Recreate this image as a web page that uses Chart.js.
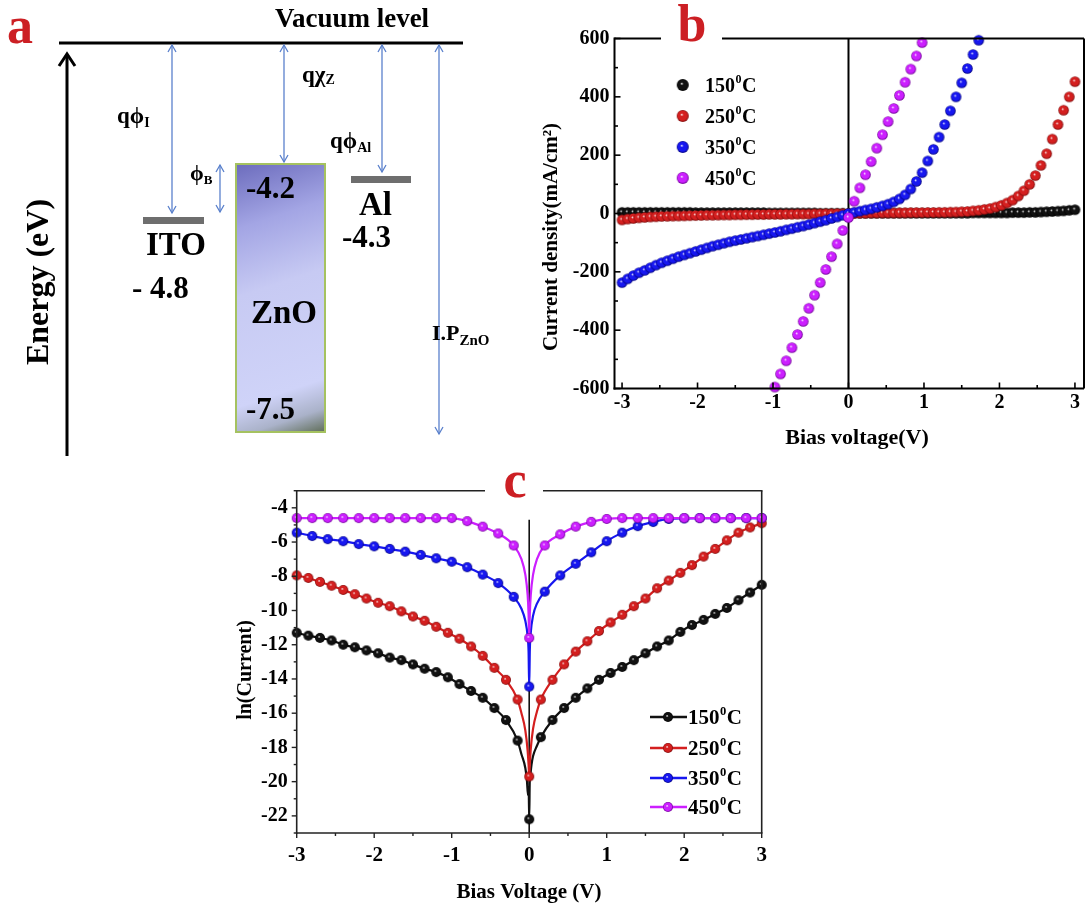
<!DOCTYPE html>
<html><head><meta charset="utf-8">
<script src="https://cdn.jsdelivr.net/npm/chart.js@4.4.1/dist/chart.umd.min.js"></script>
<style>
html,body{margin:0;padding:0;background:#fff;overflow:hidden;width:1085px;height:906px;}
canvas{position:absolute;}
#ca{left:0;top:0;}
#cb{left:530px;top:0;}
#cc{left:220px;top:462px;}
</style></head><body>
<canvas id="ca" width="520" height="460"></canvas>
<canvas id="cb" width="560" height="460"></canvas>
<canvas id="cc" width="560" height="444"></canvas>
<script>
// ---------------- DATA ----------------
const seriesNames = ['150', '250', '350', '450'];

// Panel a: energy band diagram labels
const aTitle = 'Vacuum level';
const aAxisTitle = 'Energy (eV)';
const aLevelNames = ['ITO', 'ZnO', 'Al'];
const aLevelValues = ['- 4.8', '-4.2', '-4.3'];
const aZnOValence = '-7.5';

// Panel b: current density (mA/cm2) vs bias voltage (V)
const bXTicks = [-3, -2, -1, 0, 1, 2, 3];
const bYTicks = [-600, -400, -200, 0, 200, 400, 600];
const bV = [-3,-2.925,-2.85,-2.775,-2.7,-2.625,-2.55,-2.475,-2.4,-2.325,
-2.25,-2.175,-2.1,-2.025,-1.95,-1.875,-1.8,-1.725,-1.65,-1.575,
-1.5,-1.425,-1.35,-1.275,-1.2,-1.125,-1.05,-0.975,-0.9,-0.825,
-0.75,-0.675,-0.6,-0.525,-0.45,-0.375,-0.3,-0.225,-0.15,-0.075,
0,
0.075,0.15,0.225,0.3,0.375,0.45,0.525,0.6,0.675,0.75,
0.825,0.9,0.975,1.05,1.125,1.2,1.275,1.35,1.425,1.5,
1.575,1.65,1.725,1.8,1.875,1.95,2.025,2.1,2.175,2.25,
2.325,2.4,2.475,2.55,2.625,2.7,2.775,2.85,2.925,3];
const b150 = [4,4,4,4,4,4,4,4,4,4,
4,4,4,3,3,3,3,3,3,3,
3,3,3,3,3,3,2,2,2,2,
2,2,2,2,2,1,1,1,1,1,
0,
1,1,1,1,1,1,1,1,1,1,
1,1,1,1,1,1,1,1,1,1,
1,2,2,2,2,2,2,2,3,3,
3,4,4,5,6,7,8,9,11,13];
const b250 = [-22,-19,-17,-15,-13.5,-12,-11,-10,-9.5,-9,
-8.5,-8,-7.5,-7,-6.5,-6,-6,-5.5,-5,-5,
-4.5,-4.5,-4,-4,-3.5,-3.5,-3,-3,-3,-2.5,
-2.5,-2,-2,-2,-1.5,-1.5,-1,-1,-0.5,-0.5,
0,
0.5,1,1,1.5,1.5,2,2,2,2.5,2.5,
3,3,3,3.5,3.5,4,4,4.5,5,6,
7,9,11,14,17,22,28,36,46,60,
78,100,130,165,205,255,305,354,400,452];
const b350 = [-237,-224,-213,-203,-195,-186,-177,-169,-162,-155,
-148,-142,-136,-130,-124,-118,-112,-107,-102,-97,
-93,-89,-85,-81,-77,-73,-69,-65,-61,-56,
-52,-47,-43,-38,-33,-28,-23,-17,-12,-6,
0,
4,8,12,16,21,26,32,40,50,64,
84,110,140,180,220,262,305,352,400,448,
497,545,594,null,null,null,null,null,null,null,
null,null,null,null,null,null,null,null,null,null];
const b450 = [null,null,null,null,null,null,null,null,null,null,
null,null,null,null,null,null,null,null,null,null,
null,null,null,null,null,null,null,-595,-550,-505,
-460,-415,-370,-325,-280,-237,-192,-148,-104,-58,
-14,
42,88,133,178,224,270,315,360,405,450,
495,540,586,null,null,null,null,null,null,null,
null,null,null,null,null,null,null,null,null,null,
null,null,null,null,null,null,null,null,null,null];

// Panel c: ln(current) vs bias voltage (V)
const cXTicks = [-3, -2, -1, 0, 1, 2, 3];
const cYTicks = [-22, -20, -18, -16, -14, -12, -10, -8, -6, -4];
const cV150 = [-3,-2.85,-2.7,-2.55,-2.4,-2.25,-2.1,-1.95,-1.8,-1.65,-1.5,-1.35,-1.2,-1.05,-0.9,-0.75,-0.6,-0.45,-0.3,-0.15,
-0.1,-0.05,-0.03,-0.015,-0.007,0,0.007,0.015,0.03,0.05,0.1,
0.15,0.3,0.45,0.6,0.75,0.9,1.05,1.2,1.35,1.5,1.65,1.8,1.95,2.1,2.25,2.4,2.55,2.7,2.85,3];
const c150 = [-11.3,-11.47,-11.6,-11.75,-12.0,-12.15,-12.33,-12.5,-12.75,-12.9,-13.15,-13.4,-13.6,-13.9,-14.3,-14.7,-15.1,-15.7,-16.4,-17.6,
-18.4,-19.2,-19.9,-20.8,-20.3,-22.2,-20.0,-19.6,-19.0,-18.5,-17.9,
-17.4,-16.4,-15.7,-15.1,-14.55,-14.05,-13.65,-13.3,-12.9,-12.5,-12.1,-11.75,-11.25,-10.85,-10.55,-10.2,-9.85,-9.4,-8.95,-8.5];
const cV250 = [-3,-2.85,-2.7,-2.55,-2.4,-2.25,-2.1,-1.95,-1.8,-1.65,-1.5,-1.35,-1.2,-1.05,-0.9,-0.75,-0.6,-0.45,-0.3,-0.15,
-0.1,-0.05,-0.02,-0.008,0,0.008,0.02,0.05,0.1,
0.15,0.3,0.45,0.6,0.75,0.9,1.05,1.2,1.35,1.5,1.65,1.8,1.95,2.1,2.25,2.4,2.55,2.7,2.85,3];
const c250 = [-7.95,-8.1,-8.33,-8.55,-8.8,-9.05,-9.3,-9.55,-9.75,-10.05,-10.35,-10.6,-10.95,-11.3,-11.65,-12.1,-12.65,-13.35,-14.05,-15.2,
-16.0,-17.0,-18.2,-19.0,-19.7,-19.0,-18.1,-16.9,-15.9,
-15.2,-14.05,-13.15,-12.4,-11.8,-11.2,-10.7,-10.25,-9.75,-9.3,-8.7,-8.25,-7.8,-7.35,-6.85,-6.4,-5.9,-5.45,-5.15,-4.9];
const cV350 = [-3,-2.8,-2.6,-2.4,-2.2,-2,-1.8,-1.6,-1.4,-1.2,-1,-0.8,-0.6,-0.4,-0.2,
-0.1,-0.05,-0.02,-0.008,0,0.008,0.02,0.05,0.1,
0.2,0.4,0.6,0.8,1,1.2,1.4,1.6,1.8,2,2.2,2.4,2.6,2.8,3];
const c350 = [-5.45,-5.65,-5.83,-5.95,-6.12,-6.25,-6.4,-6.56,-6.75,-6.95,-7.15,-7.47,-7.9,-8.4,-9.2,
-9.9,-10.6,-11.5,-12.4,-14.45,-12.3,-11.3,-10.3,-9.6,
-8.9,-7.95,-7.27,-6.6,-5.95,-5.45,-5.07,-4.83,-4.65,-4.62,-4.6,-4.6,-4.6,-4.6,-4.6];
const cV450 = [-3,-2.8,-2.6,-2.4,-2.2,-2,-1.8,-1.6,-1.4,-1.2,-1,-0.8,-0.6,-0.4,-0.2,
-0.1,-0.05,-0.02,-0.008,0,0.008,0.02,0.05,0.1,
0.2,0.4,0.6,0.8,1,1.2,1.4,1.6,1.8,2,2.2,2.4,2.6,2.8,3];
const c450 = [-4.6,-4.6,-4.6,-4.6,-4.6,-4.6,-4.6,-4.6,-4.6,-4.6,-4.6,-4.78,-5.1,-5.5,-6.2,
-7.0,-7.9,-9.1,-10.2,-11.6,-10.2,-9.1,-7.9,-7.0,
-6.2,-5.55,-5.1,-4.82,-4.65,-4.6,-4.6,-4.6,-4.6,-4.6,-4.6,-4.6,-4.6,-4.6,-4.6];

// ---------------- STYLE / HELPERS ----------------
const SERIF = '"Liberation Serif","Times New Roman",serif';
const RED = '#cc1f24';
const PHI = '\u03d5';
const seriesColors = ['#111111', '#d41f1f', '#1717f0', '#cc1fff'];
const seriesDark = ['#000000', '#7a0a0a', '#00007a', '#6a0090'];

function sphere(col, dark, r) {
  const c = document.createElement('canvas');
  const s = Math.ceil(r * 2 + 2);
  c.width = c.height = s;
  const g = c.getContext('2d');
  const cx = s / 2, cy = s / 2;
  const gr = g.createRadialGradient(cx - r * 0.2, cy - r * 0.25, 0, cx, cy, r);
  gr.addColorStop(0, '#ffffff');
  gr.addColorStop(0.28, col);
  gr.addColorStop(0.75, col);
  gr.addColorStop(1, dark);
  g.fillStyle = gr;
  g.beginPath(); g.arc(cx, cy, r, 0, Math.PI * 2); g.fill();
  return c;
}
const bSph = seriesColors.map((c, i) => sphere(c, seriesDark[i], 5.3));
const bLegSph = seriesColors.map((c, i) => sphere(c, seriesDark[i], 6));
const cSph = seriesColors.map((c, i) => sphere(c, seriesDark[i], 5));

function txt(ctx, s, x, y, size, o = {}) {
  ctx.font = 'bold ' + size + 'px ' + SERIF;
  ctx.fillStyle = o.color || '#000';
  ctx.textAlign = o.align || 'left';
  ctx.textBaseline = o.base || 'alphabetic';
  ctx.fillText(s, x, y);
  return ctx.measureText(s).width;
}
function subTxt(ctx, main, sub, x, y, size, subSize, dy) {
  const w = txt(ctx, main, x, y, size);
  txt(ctx, sub, x + w, y + dy, subSize);
}
function degLabel(ctx, num, x, y, size) {
  const w = txt(ctx, num, x, y, size);
  const w2 = txt(ctx, '0', x + w + 0.5, y - size * 0.45, size * 0.6);
  txt(ctx, 'C', x + w + w2 + 1, y, size);
}
function seg(ctx, x1, y1, x2, y2) {
  ctx.beginPath(); ctx.moveTo(x1, y1); ctx.lineTo(x2, y2); ctx.stroke();
}
function minorVals(min, max, step, majors) {
  const out = [];
  for (let v = Math.ceil(min / step - 1e-9) * step; v <= max + 1e-9; v += step) {
    if (!majors.some(m => Math.abs(m - v) < 1e-9)) out.push(v);
  }
  return out;
}
function isMarker(x, step) {
  const q = x / step;
  return Math.abs(q - Math.round(q)) < 1e-6;
}

// ---------------- PANEL A ----------------
const aPlugin = {
  id: 'aDiagram',
  afterDraw(chart) {
    const { ctx, scales: { x, y } } = chart;
    const X = v => x.getPixelForValue(v), Y = v => y.getPixelForValue(v);
    ctx.save();
    txt(ctx, 'a', X(7), Y(43), 52, { color: RED });
    // vacuum level
    ctx.strokeStyle = '#000'; ctx.lineWidth = 3;
    seg(ctx, X(59), Y(43), X(463), Y(43));
    txt(ctx, aTitle, X(352), Y(27), 27, { align: 'center' });
    // energy axis arrow
    seg(ctx, X(67), Y(456), X(67), Y(55));
    ctx.beginPath(); ctx.moveTo(X(59), Y(66)); ctx.lineTo(X(67), Y(54)); ctx.lineTo(X(75), Y(66)); ctx.stroke();
    ctx.save(); ctx.translate(X(48), Y(282)); ctx.rotate(-Math.PI / 2);
    txt(ctx, aAxisTitle, 0, 0, 32, { align: 'center' });
    ctx.restore();
    // ZnO box
    const zx1 = X(236), zx2 = X(325), zy1 = Y(164), zy2 = Y(432);
    const gr = ctx.createLinearGradient(zx1, zy1, zx2, zy2);
    gr.addColorStop(0, '#6c6cbd');
    gr.addColorStop(0.22, '#a3a5e4');
    gr.addColorStop(0.45, '#c7caf3');
    gr.addColorStop(0.82, '#cfd3f8');
    gr.addColorStop(0.92, '#aab2c9');
    gr.addColorStop(1, '#5f6d58');
    ctx.fillStyle = gr;
    ctx.fillRect(zx1, zy1, zx2 - zx1, zy2 - zy1);
    ctx.strokeStyle = '#a5c260'; ctx.lineWidth = 2;
    ctx.strokeRect(zx1, zy1, zx2 - zx1, zy2 - zy1);
    // metal levels
    ctx.fillStyle = '#6e6e6e';
    ctx.fillRect(X(143), Y(217), X(204) - X(143), 7);
    ctx.fillRect(X(351), Y(176), X(411) - X(351), 7);
    // blue arrows
    ctx.strokeStyle = '#5a80cc'; ctx.lineWidth = 1.3;
    const arrows = [[172, 45, 213], [284, 45, 162], [382, 45, 172], [439, 45, 434], [220, 165, 212]];
    arrows.forEach(([ax, y1, y2]) => {
      const px = X(ax);
      seg(ctx, px, Y(y1), px, Y(y2));
      ctx.beginPath(); ctx.moveTo(px - 4, Y(y1) + 7); ctx.lineTo(px, Y(y1)); ctx.lineTo(px + 4, Y(y1) + 7); ctx.stroke();
      ctx.beginPath(); ctx.moveTo(px - 4, Y(y2) - 7); ctx.lineTo(px, Y(y2)); ctx.lineTo(px + 4, Y(y2) - 7); ctx.stroke();
    });
    // labels
    subTxt(ctx, 'q' + PHI, 'I', X(117), Y(123), 23, 14, 4);
    subTxt(ctx, 'q\u03c7', 'Z', X(302), Y(82), 23, 14, 2);
    subTxt(ctx, 'q' + PHI, 'Al', X(330), Y(148), 23, 14, 4);
    subTxt(ctx, PHI, 'B', X(190), Y(180), 22, 13, 4);
    subTxt(ctx, 'I.P', 'ZnO', X(432), Y(340), 22, 15, 5);
    txt(ctx, aLevelValues[1], X(246), Y(198), 31);
    txt(ctx, aLevelNames[0], X(146), Y(255), 33);
    txt(ctx, aLevelValues[0], X(132), Y(298), 31);
    txt(ctx, aLevelNames[2], X(359), Y(215), 33);
    txt(ctx, aLevelValues[2], X(342), Y(247), 31);
    txt(ctx, aLevelNames[1], X(284), Y(323), 33, { align: 'center' });
    txt(ctx, aZnOValence, X(246), Y(419), 31);
    ctx.restore();
  }
};
new Chart(document.getElementById('ca'), {
  type: 'scatter',
  data: { datasets: [] },
  options: {
    responsive: false, animation: false, devicePixelRatio: 1,
    layout: { padding: 0 },
    plugins: { legend: { display: false }, tooltip: { enabled: false } },
    scales: {
      x: { type: 'linear', min: 0, max: 520, display: false },
      y: { type: 'linear', min: 0, max: 460, reverse: true, display: false }
    }
  },
  plugins: [aPlugin]
});

// ---------------- PANEL B ----------------
const bPlugin = {
  id: 'bDecor',
  beforeDatasetsDraw(chart) {
    const { ctx, chartArea: a, scales: { x } } = chart;
    ctx.save(); ctx.strokeStyle = '#000'; ctx.lineWidth = 2;
    const x0 = x.getPixelForValue(0);
    seg(ctx, x0, a.top, x0, a.bottom);
    ctx.restore();
  },
  afterDraw(chart) {
    const { ctx, chartArea: a, scales: { x, y } } = chart;
    ctx.save();
    ctx.strokeStyle = '#000'; ctx.lineWidth = 2;
    seg(ctx, a.left, a.top - 1, a.left, a.bottom + 1);
    seg(ctx, a.left - 1, a.bottom, a.right, a.bottom);
    seg(ctx, a.left, a.top, 131, a.top);
    seg(ctx, 192, a.top, a.right, a.top);
    seg(ctx, a.right, a.top, a.right, a.bottom);
    // inward ticks
    ctx.lineWidth = 1.6;
    bXTicks.forEach(v => { const p = x.getPixelForValue(v); seg(ctx, p, a.bottom, p, a.bottom - 6); });
    minorVals(x.min, x.max, 0.5, bXTicks).forEach(v => { const p = x.getPixelForValue(v); seg(ctx, p, a.bottom, p, a.bottom - 3.5); });
    bYTicks.forEach(v => { const p = y.getPixelForValue(v); seg(ctx, a.left, p, a.left + 6, p); });
    minorVals(y.min, y.max, 100, bYTicks).forEach(v => { const p = y.getPixelForValue(v); seg(ctx, a.left, p, a.left + 3.5, p); });
    // panel letter
    txt(ctx, 'b', 162, 41, 52, { color: RED, align: 'center' });
    // legend
    const ly = [85, 116, 147, 178];
    seriesNames.forEach((n, i) => {
      const s = bLegSph[i];
      ctx.drawImage(s, 152.7 - s.width / 2, ly[i] - s.height / 2);
      degLabel(ctx, n, 175, ly[i] + 7, 20);
    });
    // axis titles
    txt(ctx, 'Bias voltage(V)', 327, 444, 22, { align: 'center' });
    ctx.save(); ctx.translate(27, 237); ctx.rotate(-Math.PI / 2);
    txt(ctx, 'Current density(mA/cm\u00b2)', 0, 0, 21, { align: 'center' });
    ctx.restore();
    ctx.restore();
  }
};
const bSeries = [b150, b250, b350, b450];
new Chart(document.getElementById('cb'), {
  type: 'scatter',
  data: {
    datasets: bSeries.map((arr, i) => ({
      label: seriesNames[i],
      data: bV.map((v, k) => ({ x: v, y: arr[k] })),
      pointStyle: bSph[i], pointRadius: 5, showLine: false, order: 3 - i, clip: false
    }))
  },
  options: {
    responsive: false, animation: false, devicePixelRatio: 1,
    layout: { padding: { top: 38.5, right: 3, left: 0, bottom: 0 } },
    plugins: { legend: { display: false }, tooltip: { enabled: false } },
    scales: {
      x: {
        type: 'linear', min: -3.1, max: 3.12,
        afterBuildTicks: s => { s.ticks = bXTicks.map(v => ({ value: v })); },
        afterFit: s => { s.height = 71.5; },
        grid: { display: false, drawTicks: false }, border: { display: false },
        ticks: { padding: 2, color: '#000', font: { family: SERIF, size: 20, weight: 'bold' } }
      },
      y: {
        type: 'linear', min: -600, max: 600,
        afterBuildTicks: s => { s.ticks = bYTicks.map(v => ({ value: v })); },
        afterFit: s => { s.width = 84.5; },
        grid: { display: false, drawTicks: false }, border: { display: false },
        ticks: { padding: 5, color: '#000', font: { family: SERIF, size: 20, weight: 'bold' } }
      }
    }
  },
  plugins: [bPlugin]
});

// ---------------- PANEL C ----------------
const cPlugin = {
  id: 'cDecor',
  beforeDatasetsDraw(chart) {
    const { ctx, chartArea: a, scales: { x, y } } = chart;
    ctx.save(); ctx.strokeStyle = '#111'; ctx.lineWidth = 1.6;
    const x0 = x.getPixelForValue(0);
    seg(ctx, x0, y.getPixelForValue(-4.7), x0, a.bottom);
    ctx.restore();
  },
  afterDraw(chart) {
    const { ctx, chartArea: a, scales: { x, y } } = chart;
    ctx.save();
    ctx.strokeStyle = '#222'; ctx.lineWidth = 1.6;
    seg(ctx, a.left, a.top, a.left, a.bottom + 0.8);
    seg(ctx, a.left - 0.8, a.bottom, a.right + 0.8, a.bottom);
    seg(ctx, a.right, a.top, a.right, a.bottom);
    seg(ctx, a.left - 0.8, a.top, 265, a.top);
    seg(ctx, 323, a.top, a.right + 0.8, a.top);
    // outward ticks
    ctx.lineWidth = 1.4;
    cXTicks.forEach(v => { const p = x.getPixelForValue(v); seg(ctx, p, a.bottom, p, a.bottom + 5); });
    minorVals(x.min, x.max, 0.5, cXTicks).forEach(v => { const p = x.getPixelForValue(v); seg(ctx, p, a.bottom, p, a.bottom + 3); });
    cYTicks.forEach(v => { const p = y.getPixelForValue(v); seg(ctx, a.left, p, a.left - 5, p); });
    minorVals(y.min, y.max, 1, cYTicks).forEach(v => { const p = y.getPixelForValue(v); seg(ctx, a.left, p, a.left - 3, p); });
    // panel letter
    txt(ctx, 'c', 295, 35, 52, { color: RED, align: 'center' });
    // legend
    const ly = [255, 286, 316, 345];
    seriesNames.forEach((n, i) => {
      ctx.strokeStyle = seriesColors[i]; ctx.lineWidth = 2.4;
      seg(ctx, 430, ly[i], 467, ly[i]);
      const s = cSph[i];
      ctx.drawImage(s, 448 - s.width / 2, ly[i] - s.height / 2);
      degLabel(ctx, n, 468, ly[i] + 7, 21);
    });
    // axis titles
    txt(ctx, 'Bias Voltage (V)', 309, 436, 21, { align: 'center' });
    ctx.save(); ctx.translate(31, 208); ctx.rotate(-Math.PI / 2);
    txt(ctx, 'ln(Current)', 0, 0, 20, { align: 'center' });
    ctx.restore();
    ctx.restore();
  }
};
const cX = [cV150, cV250, cV350, cV450];
const cY = [c150, c250, c350, c450];
const cStep = [0.15, 0.15, 0.2, 0.2];
new Chart(document.getElementById('cc'), {
  type: 'scatter',
  data: {
    datasets: cY.map((arr, i) => ({
      label: seriesNames[i],
      data: cX[i].map((v, k) => ({ x: v, y: arr[k] })),
      showLine: true, borderColor: seriesColors[i], borderWidth: 2.2,
      cubicInterpolationMode: 'monotone',
      pointStyle: cSph[i],
      pointRadius: ctx => (ctx.raw && isMarker(ctx.raw.x, cStep[i])) ? 5 : 0,
      pointHoverRadius: 0,
      order: 3 - i, clip: false
    }))
  },
  options: {
    responsive: false, animation: false, devicePixelRatio: 1,
    layout: { padding: { top: 28.7, right: 18.3, left: 0, bottom: 0 } },
    plugins: { legend: { display: false }, tooltip: { enabled: false } },
    scales: {
      x: {
        type: 'linear', min: -3, max: 3,
        afterBuildTicks: s => { s.ticks = cXTicks.map(v => ({ value: v })); },
        afterFit: s => { s.height = 73; },
        grid: { display: false, drawTicks: false }, border: { display: false },
        ticks: { padding: 10, color: '#000', font: { family: SERIF, size: 21, weight: 'bold' } }
      },
      y: {
        type: 'linear', min: -23, max: -3,
        afterBuildTicks: s => { s.ticks = cYTicks.map(v => ({ value: v })); },
        afterFit: s => { s.width = 76.7; },
        grid: { display: false, drawTicks: false }, border: { display: false },
        ticks: { padding: 9, color: '#000', font: { family: SERIF, size: 20, weight: 'bold' } }
      }
    }
  },
  plugins: [cPlugin]
});
</script>
</body></html>
